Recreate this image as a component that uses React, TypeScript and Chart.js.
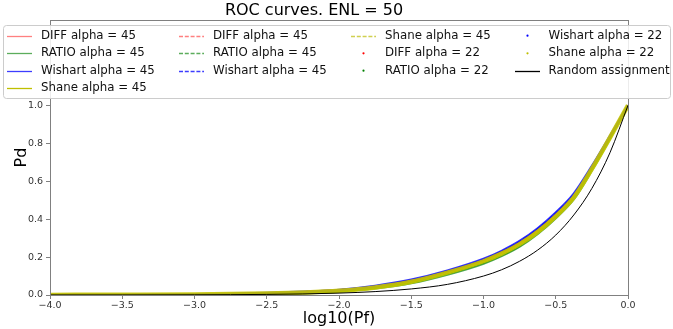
import React, { useEffect, useRef } from 'react';
import { Chart, registerables } from 'chart.js';

Chart.register(...registerables);

// ---- data ----
const logPf = [-4.0, -3.5, -3.0, -2.75, -2.5, -2.25, -2.0, -1.75, -1.5, -1.25, -1.0, -0.875, -0.75, -0.625, -0.5, -0.375, -0.25, -0.125, 0.0];

const diffA45 = [0.0005, 0.0015, 0.003, 0.005, 0.009, 0.014, 0.024, 0.043, 0.074, 0.122, 0.183, 0.224, 0.274, 0.338, 0.42, 0.52, 0.668, 0.832, 1.0];
const ratioA45 = [0.0004, 0.0012, 0.0025, 0.0045, 0.007, 0.011, 0.019, 0.036, 0.064, 0.11, 0.168, 0.208, 0.258, 0.325, 0.408, 0.508, 0.66, 0.826, 1.0];
const wishartA45 = [0.0005, 0.0016, 0.0035, 0.006, 0.01, 0.016, 0.026, 0.046, 0.078, 0.126, 0.186, 0.228, 0.28, 0.347, 0.43, 0.53, 0.675, 0.835, 1.0];
const shaneA45 = [0.0005, 0.0015, 0.003, 0.005, 0.008, 0.013, 0.022, 0.04, 0.07, 0.118, 0.178, 0.218, 0.268, 0.333, 0.415, 0.515, 0.665, 0.83, 1.0];

const diffA45b = [0.0005, 0.0015, 0.003, 0.0055, 0.009, 0.015, 0.025, 0.044, 0.075, 0.124, 0.185, 0.226, 0.276, 0.34, 0.422, 0.522, 0.67, 0.833, 1.0];
const ratioA45b = [0.0004, 0.0013, 0.0026, 0.0045, 0.0075, 0.012, 0.02, 0.037, 0.066, 0.112, 0.17, 0.21, 0.26, 0.327, 0.41, 0.51, 0.662, 0.827, 1.0];
const wishartA45b = [0.0005, 0.0017, 0.0036, 0.0062, 0.0105, 0.017, 0.027, 0.047, 0.079, 0.127, 0.188, 0.23, 0.282, 0.349, 0.432, 0.532, 0.677, 0.836, 1.0];
const shaneA45b = [0.0005, 0.0015, 0.003, 0.005, 0.0085, 0.0135, 0.023, 0.041, 0.071, 0.119, 0.179, 0.219, 0.269, 0.334, 0.416, 0.516, 0.666, 0.831, 1.0];

const diffA22 = [0.0005, 0.0015, 0.003, 0.0055, 0.009, 0.015, 0.025, 0.044, 0.075, 0.123, 0.184, 0.225, 0.275, 0.34, 0.421, 0.521, 0.669, 0.832, 1.0];
const ratioA22 = [0.0004, 0.0012, 0.0025, 0.0045, 0.007, 0.011, 0.019, 0.035, 0.063, 0.108, 0.166, 0.206, 0.256, 0.323, 0.406, 0.506, 0.658, 0.825, 1.0];
const wishartA22 = [0.0005, 0.0017, 0.0036, 0.0062, 0.0105, 0.017, 0.027, 0.048, 0.08, 0.128, 0.19, 0.232, 0.284, 0.351, 0.434, 0.534, 0.679, 0.837, 1.0];
const shaneA22 = [0.0005, 0.0015, 0.003, 0.005, 0.008, 0.013, 0.022, 0.04, 0.07, 0.118, 0.178, 0.218, 0.268, 0.333, 0.415, 0.515, 0.665, 0.83, 1.0];

const randomPd = [0.0001, 0.0003, 0.001, 0.0018, 0.0032, 0.0056, 0.01, 0.018, 0.032, 0.056, 0.1, 0.133, 0.178, 0.237, 0.316, 0.422, 0.562, 0.75, 1.0];

const xTicksStep = 0.5;
const yTicksStep = 0.2;

// ---- styles ----
const RED = 'rgba(255,0,0,0.45)';
const GREEN = 'rgba(0,128,0,0.6)';
const BLUE = 'rgba(0,0,255,0.73)';
const YELLOW = 'rgba(191,191,0,1)';
const FONT = "'DejaVu Sans', 'Liberation Sans', sans-serif";

type Kind = 'line' | 'dash' | 'dot';
const seriesDefs: { label: string; data: number[]; color: string; legendColor: string; kind: Kind; width: number }[] = [
  { label: 'DIFF alpha = 45', data: diffA45, color: RED, legendColor: '#ff8080', kind: 'line', width: 1.5 },
  { label: 'RATIO alpha = 45', data: ratioA45, color: GREEN, legendColor: '#5cad5c', kind: 'line', width: 1.5 },
  { label: 'Wishart alpha = 45', data: wishartA45, color: BLUE, legendColor: '#3d3dff', kind: 'line', width: 1.5 },
  { label: 'Shane alpha = 45', data: shaneA45, color: YELLOW, legendColor: '#bfbf00', kind: 'line', width: 1.5 },
  { label: 'DIFF alpha = 45', data: diffA45b, color: RED, legendColor: '#ff8080', kind: 'dash', width: 1.5 },
  { label: 'RATIO alpha = 45', data: ratioA45b, color: GREEN, legendColor: '#5cad5c', kind: 'dash', width: 1.5 },
  { label: 'Wishart alpha = 45', data: wishartA45b, color: BLUE, legendColor: '#3d3dff', kind: 'dash', width: 1.5 },
  { label: 'Shane alpha = 45', data: shaneA45b, color: YELLOW, legendColor: '#d0d050', kind: 'dash', width: 1.5 },
  { label: 'DIFF alpha = 22', data: diffA22, color: 'rgba(255,0,0,0.55)', legendColor: 'rgb(255,0,0)', kind: 'dot', width: 2.5 },
  { label: 'RATIO alpha = 22', data: ratioA22, color: 'rgba(0,128,0,0.7)', legendColor: 'rgb(0,128,0)', kind: 'dot', width: 2.5 },
  { label: 'Wishart alpha = 22', data: wishartA22, color: 'rgba(0,0,255,0.8)', legendColor: 'rgb(0,0,255)', kind: 'dot', width: 2.5 },
  { label: 'Shane alpha = 22', data: shaneA22, color: 'rgba(200,200,0,0.9)', legendColor: 'rgb(191,191,0)', kind: 'dot', width: 4.5 },
  { label: 'Random assignment', data: randomPd, color: '#000000', legendColor: '#000000', kind: 'line', width: 1 },
];

const legendPlugin = {
  id: 'mplLegend',
  afterDraw(chart: any) {
    const ctx: CanvasRenderingContext2D = chart.ctx;
    ctx.save();
    ctx.beginPath();
    (ctx as any).roundRect(3.5, 25.5, 667, 73, 3);
    ctx.fillStyle = 'rgba(255,255,255,0.85)';
    ctx.fill();
    ctx.strokeStyle = '#cccccc';
    ctx.lineWidth = 1;
    ctx.stroke();

    const counts = [4, 3, 3, 3];
    const handleX = [7, 179, 351, 515];
    const textX = [41, 213, 385, 548.5];
    const rowY = [35.7, 53.3, 70.7, 88.3];
    let idx = 0;
    ctx.font = `11.8px ${FONT}`;
    ctx.textBaseline = 'middle';
    ctx.textAlign = 'left';
    for (let c = 0; c < counts.length; c++) {
      for (let r = 0; r < counts[c]; r++) {
        const s = seriesDefs[idx++];
        const y = rowY[r];
        const hx = handleX[c];
        if (s.kind === 'dot') {
          ctx.fillStyle = s.legendColor;
          ctx.beginPath();
          ctx.arc(hx + 12.5, y, 1.1, 0, Math.PI * 2);
          ctx.fill();
        } else {
          ctx.strokeStyle = s.legendColor;
          ctx.lineWidth = 1.3;
          ctx.setLineDash(s.kind === 'dash' ? [4, 1.8] : []);
          ctx.beginPath();
          ctx.moveTo(hx, Math.round(y) + 0.5);
          ctx.lineTo(hx + 25, Math.round(y) + 0.5);
          ctx.stroke();
          ctx.setLineDash([]);
        }
        ctx.fillStyle = '#111';
        ctx.fillText(s.label, textX[c], y);
      }
    }
    ctx.restore();
  },
};

const framePlugin = {
  id: 'frame',
  afterDatasetsDraw(chart: any) {
    const { ctx, chartArea } = chart;
    ctx.save();
    ctx.strokeStyle = '#808080';
    ctx.lineWidth = 1;
    const l = Math.round(chartArea.left) + 0.5;
    const t = Math.round(chartArea.top) + 0.5;
    const r = Math.round(chartArea.right) + 0.5;
    const b = Math.round(chartArea.bottom) + 0.5;
    ctx.strokeRect(l, t, r - l, b - t);
    ctx.restore();
  },
};

export default function App() {
  const ref = useRef<HTMLCanvasElement | null>(null);
  useEffect(() => {
    if (!ref.current) return;
    const n = seriesDefs.length;
    const datasets = seriesDefs.map((s, i) => ({
      label: s.label,
      data: logPf.map((x, j) => ({ x, y: s.data[j] })),
      borderColor: s.color,
      backgroundColor: s.color,
      borderWidth: s.width,
      borderDash: s.kind === 'dash' ? [5.5, 2.4] : [],
      pointRadius: 0,
      showLine: true,
      fill: false,
      cubicInterpolationMode: 'monotone' as const,
      order: n - i,
    }));
    const chart = new Chart(ref.current, {
      type: 'scatter',
      data: { datasets },
      options: {
        animation: false,
        responsive: false,
        devicePixelRatio: 1,
        layout: { padding: { left: 0, right: 45, top: 0, bottom: 0 } },
        font: { family: FONT },
        plugins: {
          legend: { display: false },
          tooltip: { enabled: false },
          title: {
            display: true,
            text: 'ROC curves. ENL = 50',
            color: '#000',
            font: { family: FONT, size: 16, weight: 'normal', lineHeight: 1.125 },
            padding: { top: 2, bottom: 0 },
          },
        },
        scales: {
          x: {
            type: 'linear',
            min: -4,
            max: 0,
            border: { display: false },
            grid: { display: true, drawOnChartArea: false, drawTicks: true, tickLength: 4, color: '#808080' },
            ticks: {
              stepSize: xTicksStep,
              color: '#333',
              padding: 1,
              maxRotation: 0,
              font: { family: FONT, size: 9.5 },
              callback: (v: any) => Number(v).toFixed(1).replace('-', '\u2212'),
            },
            title: {
              display: true,
              text: 'log10(Pf)',
              color: '#000',
              font: { family: FONT, size: 16, lineHeight: 1.2 },
              padding: { top: 0, bottom: 1 },
            },
            afterFit: (scale: any) => { scale.height = 34; },
          },
          y: {
            type: 'linear',
            min: 0,
            max: 1.45,
            border: { display: false },
            grid: { display: true, drawOnChartArea: false, drawTicks: true, tickLength: 4, color: '#808080' },
            ticks: {
              stepSize: yTicksStep,
              includeBounds: false,
              color: '#333',
              padding: 3,
              font: { family: FONT, size: 9.5 },
              callback: (v: any) => Number(v).toFixed(1),
            },
            afterBuildTicks: (scale: any) => {
              scale.ticks = scale.ticks.filter((t: any) => t.value <= 1.0001);
            },
            title: {
              display: true,
              text: 'Pd',
              color: '#000',
              font: { family: FONT, size: 16, lineHeight: 1.2 },
              padding: { top: 12, bottom: 0 },
            },
            afterFit: (scale: any) => { scale.width = 50; },
          },
        },
      },
      plugins: [framePlugin, legendPlugin],
    } as any);
    return () => chart.destroy();
  }, []);
  return (
    <div style={{ position: 'fixed', left: 0, top: 0, width: 673, height: 329, background: '#fff' }}>
      <canvas ref={ref} width={673} height={329} />
    </div>
  );
}
